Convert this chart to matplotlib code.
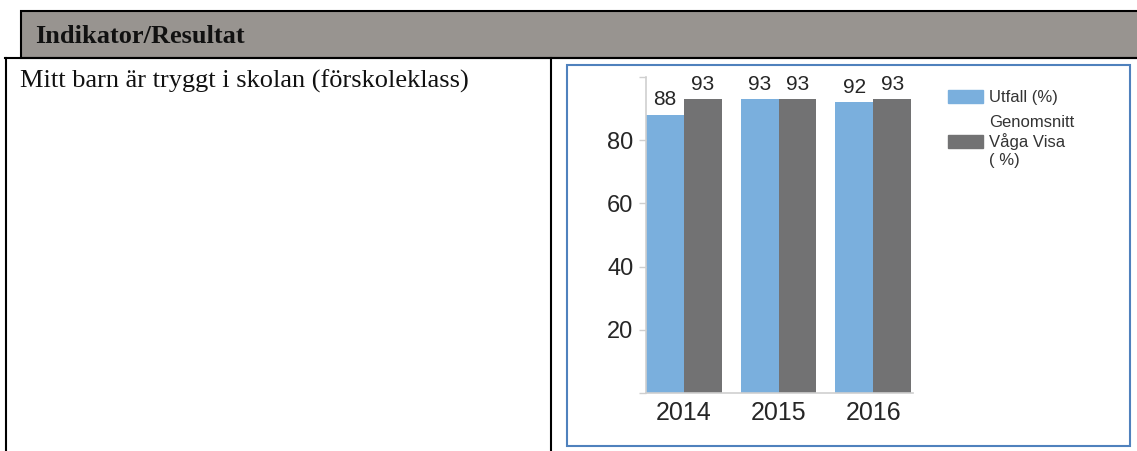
import numpy as np
import matplotlib
matplotlib.use('Agg')
import matplotlib.pyplot as plt
from matplotlib.patches import Rectangle, Patch
from matplotlib.lines import Line2D

years = ['2014', '2015', '2016']
utfall = [88, 93, 92]
genomsnitt = [93, 93, 93]
series_names = ['Utfall (%)', 'Genomsnitt\nVåga Visa\n( %)']
header = 'Indikator/Resultat'
indicator = 'Mitt barn är tryggt i skolan (förskoleklass)'

blue = '#7aafdd'
gray = '#727273'
txt = '#262626'
axis_gray = '#cfcfcf'

W, H = 1137, 451
fig = plt.figure(figsize=(W / 100, H / 100), dpi=100)


def fx(x):
    return x / W


def fy(y):
    return 1 - y / H


def line(x0, y0, x1, y1, **kw):
    fig.add_artist(Line2D([fx(x0), fx(x1)], [fy(y0), fy(y1)],
                          transform=fig.transFigure, **kw))


# table around the chart
fig.add_artist(Rectangle((fx(21), fy(58)), fx(1140) - fx(21), fy(11) - fy(58),
                         transform=fig.transFigure, facecolor='#989490',
                         edgecolor='black', lw=1.5))
line(5, 58, 1137, 58, color='black', lw=1.5)
line(6, 58, 6, 451, color='black', lw=1.5)
line(551, 58, 551, 451, color='black', lw=1.5)
fig.text(fx(35), fy(43), header, family='Liberation Serif', weight='bold',
         size=19, va='baseline', color='#111111')
fig.text(fx(20), fy(88), indicator, family='Liberation Serif',
         size=19, va='baseline', color='#111111')

# chart frame (behind the axes)
fig.add_artist(Rectangle((fx(567), fy(446)), fx(1130) - fx(567), fy(65) - fy(446),
                         transform=fig.transFigure, facecolor='white',
                         edgecolor='#4f81bd', lw=1.5, zorder=-1))

ax = fig.add_axes([fx(646), fy(393), fx(913) - fx(646), fy(77) - fy(393)])
ax.patch.set_alpha(0)
x = np.arange(len(years))
w = 0.4
b1 = ax.bar(x - w / 2, utfall, width=w, color=blue)
b2 = ax.bar(x + w / 2, genomsnitt, width=w, color=gray)
ax.bar_label(b1, padding=4, fontsize=15, color=txt, family='Liberation Sans')
ax.bar_label(b2, padding=4, fontsize=15, color=txt, family='Liberation Sans')

ax.set_xlim(-0.4, 2.42)
ax.set_ylim(0, 100)
ax.set_xticks(x)
ax.set_xticklabels(years, fontsize=18, color=txt, family='Liberation Sans')
ax.set_yticks(np.arange(0, 101, 20))
ax.set_yticklabels(['', '20', '40', '60', '80', ''], fontsize=17, color=txt,
                   family='Liberation Sans')
ax.tick_params(axis='x', length=0, pad=6)
ax.tick_params(axis='y', length=5, width=1, color=axis_gray, pad=4)
for s in ['top', 'right']:
    ax.spines[s].set_visible(False)
for s in ['left', 'bottom']:
    ax.spines[s].set_color(axis_gray)
    ax.spines[s].set_linewidth(1.2)

handles = [Patch(color=blue), Patch(color=gray)]
fig.legend(handles, series_names, loc='upper left',
           bbox_to_anchor=(fx(948), fy(90)), frameon=False, borderpad=0,
           borderaxespad=0, handlelength=2.1, handleheight=0.84,
           handletextpad=0.35, labelspacing=0.6,
           prop={'family': 'Liberation Sans', 'size': 12}, labelcolor='#333333')

fig.savefig('out.png', dpi=100)
